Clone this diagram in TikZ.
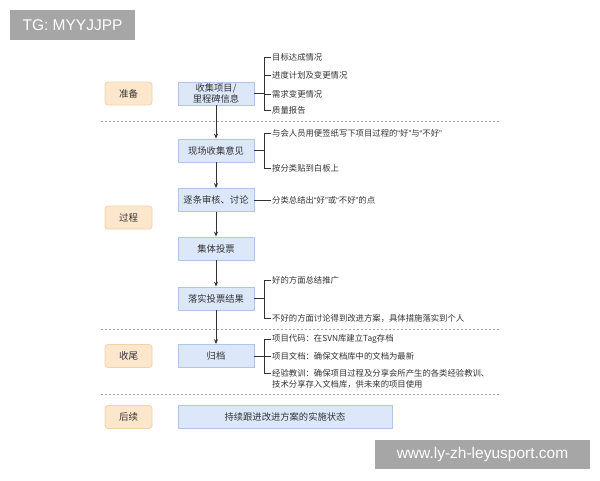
\documentclass[tikz,border=0pt]{standalone}
\usepackage{fontspec}
\setmainfont{Noto Sans CJK SC}
\newfontfamily\wmfont{Liberation Sans}
\newcommand{\oq}{{\wmfont “}}
\newcommand{\cq}{{\wmfont ”}}
\usetikzlibrary{arrows.meta}
\definecolor{phfill}{HTML}{FDE7CC}
\definecolor{phdraw}{HTML}{F2D3A8}
\definecolor{bxfill}{HTML}{DCE8FA}
\definecolor{bxdraw}{HTML}{AFC6E6}
\definecolor{ln}{HTML}{333333}
\definecolor{wmgray}{HTML}{A6A6A6}
\tikzset{
  phase/.style={draw=phdraw, fill=phfill, rounded corners=3pt, line width=0.8pt, minimum width=47pt, minimum height=23pt, inner sep=0pt, font=\fontsize{9.5}{11}\selectfont, text=ln},
  pbox/.style={draw=bxdraw, fill=bxfill, line width=0.8pt, minimum width=76pt, minimum height=23pt, inner sep=0pt, align=center, font=\fontsize{9.3}{11.5}\selectfont, text=ln},
  item/.style={anchor=west, inner sep=1pt, font=\fontsize{8.35}{9.5}\selectfont, text=ln},
  conn/.style={draw=ln, line width=0.9pt, -{Stealth[length=5pt,width=4pt]}},
  br/.style={draw=ln, line width=0.8pt},
  sep/.style={draw=black!35, line width=0.8pt, dash pattern=on 2pt off 2pt},
  wm/.style={fill=wmgray, text=white, inner sep=0pt, font=\wmfont\fontsize{15.5}{17}\selectfont}
}
\begin{document}
\begin{tikzpicture}[x=1pt,y=-1pt]
\useasboundingbox (0,0) rectangle (600,480);
\fill[white] (0,0) rectangle (600,480);

% watermarks
\node[wm, minimum width=125pt, minimum height=30pt] (tg) at (72.5,25) {TG: MYYJJPP};
\node[wm, minimum width=215pt, minimum height=29pt] (www) at (482.5,454.5) {www.ly-zh-leyusport.com};

% separators
\draw[sep] (101,121) -- (499,121);
\draw[sep] (101,329) -- (499,329);
\draw[sep] (101,394) -- (499,394);

% phases
\node[phase] (p1) at (128.5,93.5) {准备};
\node[phase] (p2) at (128.5,217.5) {过程};
\node[phase] (p3) at (128.5,356) {收尾};
\node[phase] (p4) at (128.5,417) {后续};

% process boxes
\node[pbox] (b1) at (216,93.5) {收集项目/\\里程碑信息};
\node[pbox] (b2) at (216,150.5) {现场收集意见};
\node[pbox] (b3) at (216,200) {逐条审核、讨论};
\node[pbox] (b4) at (216,248.5) {集体投票};
\node[pbox] (b5) at (216,298.5) {落实投票结果};
\node[pbox] (b6) at (216,356) {归档};
\node[pbox, minimum width=214pt] (b7) at (285,417) {持续跟进改进方案的实施状态};

% arrows
\draw[conn] (b1) -- (b2);
\draw[conn] (b2) -- (b3);
\draw[conn] (b3) -- (b4);
\draw[conn] (b4) -- (b5);
\draw[conn] (b5) -- (b6);

% items box1
\node[item] (i11) at (271,57) {目标达成情况};
\node[item] (i12) at (271,75) {进度计划及变更情况};
\node[item] (i13) at (271,94) {需求变更情况};
\node[item] (i14) at (271,110) {质量报告};
\coordinate (j1) at (264,93.5);
\draw[br] (b1.east) -- (j1);
\draw[br] (i11.west) -| (j1);
\draw[br] (i12.west) -| (j1);
\draw[br] (i13.west) -| (j1);
\draw[br] (i14.west) -| (j1);

% items box2
\node[item] (i21) at (271,133) {与会人员用便签纸写下项目过程的\oq 好\cq 与\oq 不好\cq};
\node[item] (i22) at (271,168) {按分类贴到白板上};
\coordinate (j2) at (264,150.5);
\draw[br] (b2.east) -- (j2);
\draw[br] (i21.west) -| (j2);
\draw[br] (i22.west) -| (j2);

% item box3
\node[item] (i31) at (271,200) {分类总结出\oq 好\cq 或\oq 不好\cq 的点};
\draw[br] (b3.east) -- (i31.west);

% items box5
\node[item] (i51) at (271,280) {好的方面总结推广};
\node[item] (i52) at (271,318) {不好的方面讨论得到改进方案，具体措施落实到个人};
\coordinate (j5) at (264,298.5);
\draw[br] (b5.east) -- (j5);
\draw[br] (i51.west) -| (j5);
\draw[br] (i52.west) -| (j5);

% items box6
\node[item] (i61) at (271,339) {项目代码：在SVN库建立Tag存档};
\node[item] (i62) at (271,356) {项目文档：确保文档库中的文档为最新};
\node[item] (i63) at (271,373) {经验教训：确保项目过程及分享会所产生的各类经验教训、};
\node[item] (i64) at (271,384) {技术分享存入文档库，供未来的项目使用};
\coordinate (j6) at (264,356);
\draw[br] (b6.east) -- (j6);
\draw[br] (i61.west) -| (j6);
\draw[br] (i62.west) -| (j6);
\draw[br] (i63.west) -| (j6);
\end{tikzpicture}
\end{document}
